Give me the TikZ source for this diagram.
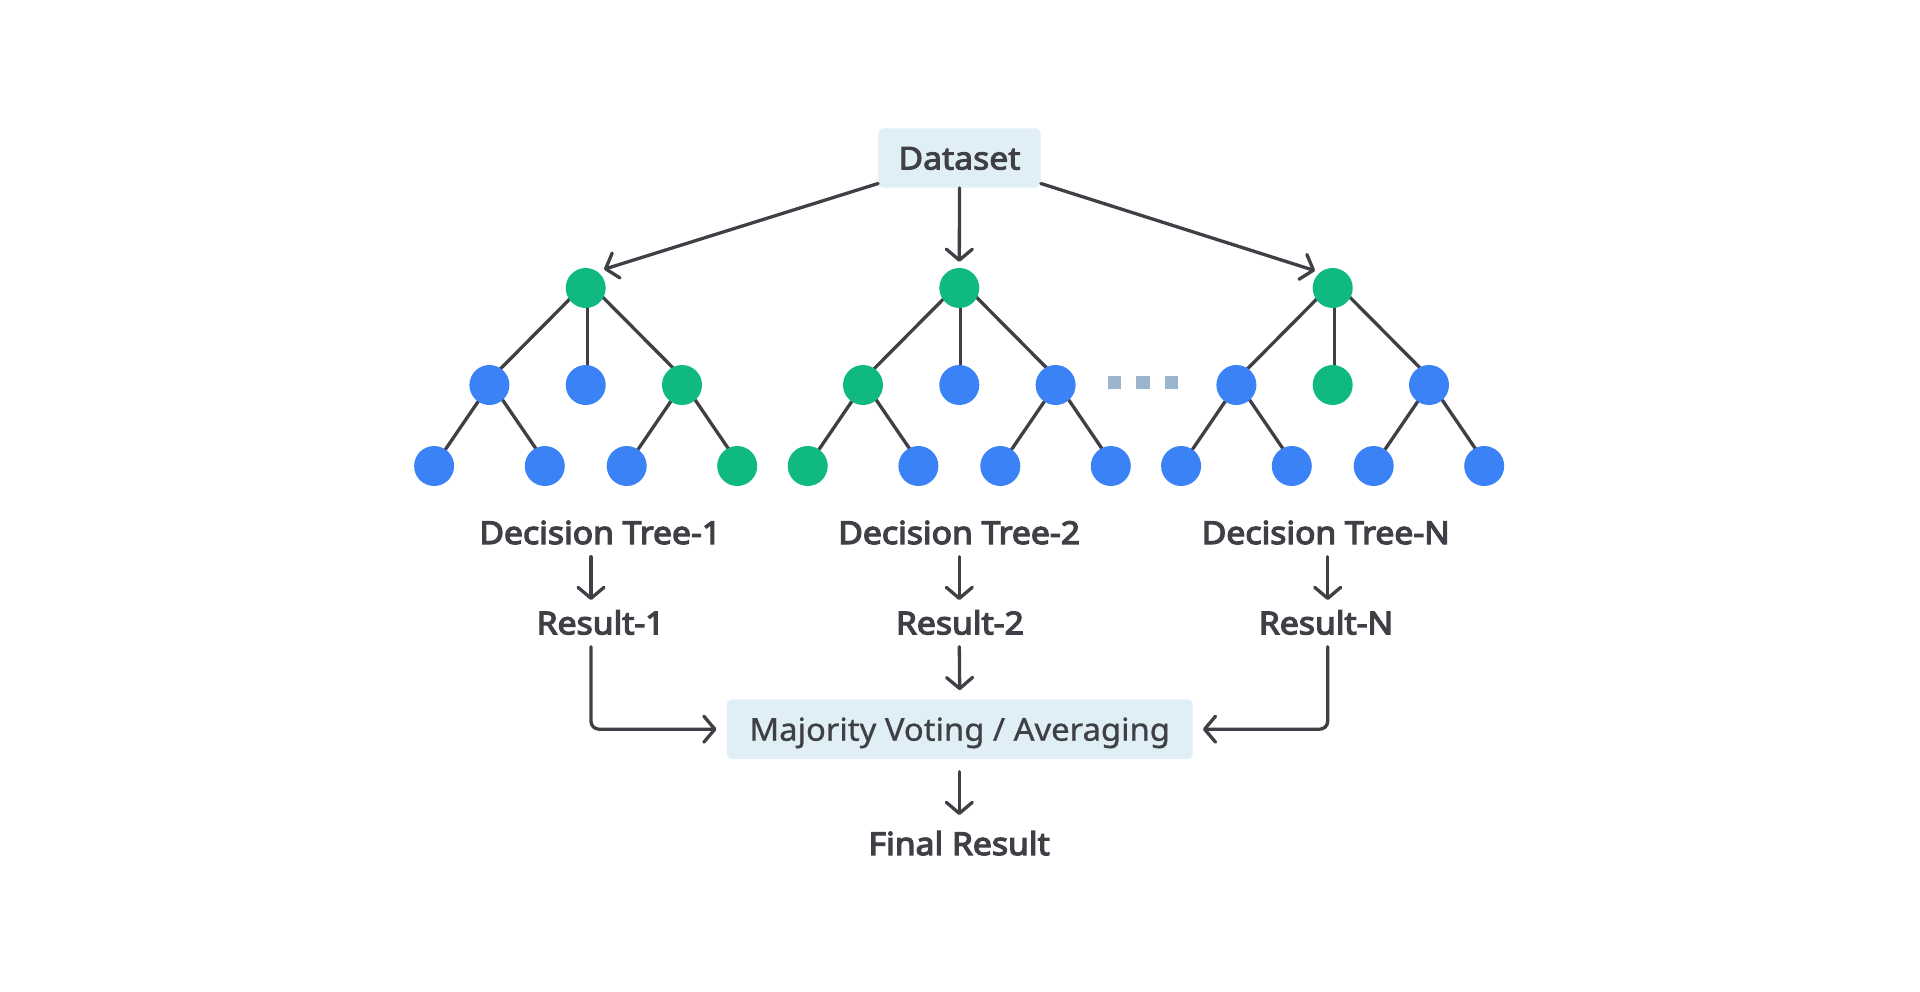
\documentclass[tikz,border=0pt]{standalone}
\usepackage{fontspec}
\setmainfont{Noto Sans}[FakeStretch=1.04, FakeBold=0.8]
\newfontfamily\medfont{Noto Sans}[FakeBold=3, FakeStretch=1.07]
\newfontfamily\semib{Noto Sans}[FakeBold=4, FakeStretch=1.07]
\usetikzlibrary{arrows.meta}
\definecolor{ink}{HTML}{3F3F46}
\definecolor{gr}{HTML}{10B981}
\definecolor{bl}{HTML}{3B82F6}
\definecolor{boxfill}{HTML}{E0EEF5}
\definecolor{dotc}{HTML}{9AB5CB}
\tikzset{
  edge/.style={draw=ink, line width=3.3pt},
  arr/.style={draw=ink, line width=3.3pt, line cap=round, line join=round,
    -{Straight Barb[length=11pt, width=26pt, line cap=round, line join=round]}},
  gnode/.style={circle, fill=gr, minimum size=40pt, inner sep=0pt},
  bnode/.style={circle, fill=bl, minimum size=40pt, inner sep=0pt},
  lbl/.style={anchor=base, text=ink, font=\fontsize{31.5}{36}\semib, inner sep=0pt},
  boxn/.style={fill=boxfill, rounded corners=6pt, text=ink, inner sep=0pt, text height=23pt, text depth=0pt},
  dotsq/.style={fill=dotc, minimum size=13.5pt, inner sep=0pt}
}
\begin{document}
\begin{tikzpicture}[x=1pt, y=-1pt]
\useasboundingbox (0,0) rectangle (1920,991);
\fill[white] (0,0) rectangle (1920,991);

% Dataset
\node[boxn, minimum width=162.4pt, minimum height=59.4pt, font=\fontsize{31.5}{36}\medfont] (dataset) at (959.5,158) {Dataset};

% Tree builder
\foreach \t/\rx/\ca/\cb/\cc/\la/\lb/\lc/\ld in
  {1/585.7/bnode/bnode/gnode/bnode/bnode/bnode/gnode,
   2/959.3/gnode/bnode/bnode/gnode/bnode/bnode/bnode,
   3/1332.7/bnode/gnode/bnode/bnode/bnode/bnode/bnode}{
  \coordinate (r\t c) at (\rx,288);
  \coordinate (m\t ac) at (\rx-96.3,385);
  \coordinate (m\t bc) at (\rx,385);
  \coordinate (m\t cc) at (\rx+96.3,385);
  \coordinate (b\t ac) at (\rx-151.6,466);
  \coordinate (b\t bc) at (\rx-40.9,466);
  \coordinate (b\t cc) at (\rx+41,466);
  \coordinate (b\t dc) at (\rx+151.5,466);
  \draw[edge] ([xshift=-5pt]r\t c) -- ([xshift=-5pt]m\t ac);
  \draw[edge] ([xshift=1.5pt]r\t c) -- ([xshift=1.5pt]m\t bc);
  \draw[edge] ([xshift=8pt]r\t c) -- ([xshift=8pt]m\t cc);
  \draw[edge] (m\t ac) -- (b\t ac);
  \draw[edge] ([xshift=3pt]m\t ac) -- ([xshift=3pt]b\t bc);
  \draw[edge] (m\t cc) -- (b\t cc);
  \draw[edge] ([xshift=3pt]m\t cc) -- ([xshift=3pt]b\t dc);
  \node[gnode] (r\t) at (r\t c) {};
  \node[\ca] (m\t a) at (m\t ac) {};
  \node[\cb] (m\t b) at (m\t bc) {};
  \node[\cc] (m\t c) at (m\t cc) {};
  \node[\la] (b\t a) at (b\t ac) {};
  \node[\lb] (b\t b) at (b\t bc) {};
  \node[\lc] (b\t c) at (b\t cc) {};
  \node[\ld] (b\t d) at (b\t dc) {};
}

% dots
\node[dotsq] (dot1) at (1114.5,382.5) {};
\node[dotsq] (dot2) at (1143,382.5) {};
\node[dotsq] (dot3) at (1171.5,382.5) {};

% Dataset arrows
\coordinate (tip1) at (604,269.3);
\coordinate (tip3) at (1315,270.7);
\draw[arr] ([yshift=4.4pt]dataset.south west) -- (tip1);
\draw[arr] ([yshift=4.4pt]dataset.south east) -- (tip3);
\draw[arr] (dataset.south) -- ([yshift=6pt]r2.north);

% labels
\node[lbl] (d1) at (600.3,544) {Decision Tree-1};
\node[lbl] (d2) at (959.2,544) {Decision Tree-2};
\node[lbl] (d3) at (1325.8,544) {Decision Tree-N};
\node[lbl] (res1) at (600.6,634.3) {Result-1};
\node[lbl] (res2) at (959.9,634.3) {Result-2};
\node[lbl] (res3) at (1326,634.3) {Result-N};

% Majority box
\node[boxn, minimum width=466pt, minimum height=59.7pt, font=\fontsize{31.5}{36}\selectfont] (maj) at (959.7,729.2) {Majority Voting / Averaging};
\node[lbl] (final) at (959.2,855) {Final Result};

% arrows tree -> result
\coordinate (a1s) at (591,556.7);   \coordinate (a1e) at (591,600);
\coordinate (a2s) at (959.3,556.7); \coordinate (a2e) at (959.3,600);
\coordinate (a3s) at (1327.7,556.7);\coordinate (a3e) at (1327.7,600);
\draw[arr] (a1s) -- (a1e);
\draw[arr] (a2s) -- (a2e);
\draw[arr] (a3s) -- (a3e);

% result -> majority
\coordinate (e1s) at (591,646.7);
\coordinate (e2s) at (959.3,646.7);
\coordinate (e3s) at (1327.7,646.7);
\draw[arr, rounded corners=8pt] (e1s) |- ([xshift=-10pt]maj.west);
\draw[arr] (e2s) -- ([yshift=9pt]maj.north);
\draw[arr, rounded corners=8pt] (e3s) |- ([xshift=10pt]maj.east);

% majority -> final
\coordinate (fs) at (959.3,771.7);
\coordinate (fe) at (959.3,815);
\draw[arr] (fs) -- (fe);
\end{tikzpicture}
\end{document}
